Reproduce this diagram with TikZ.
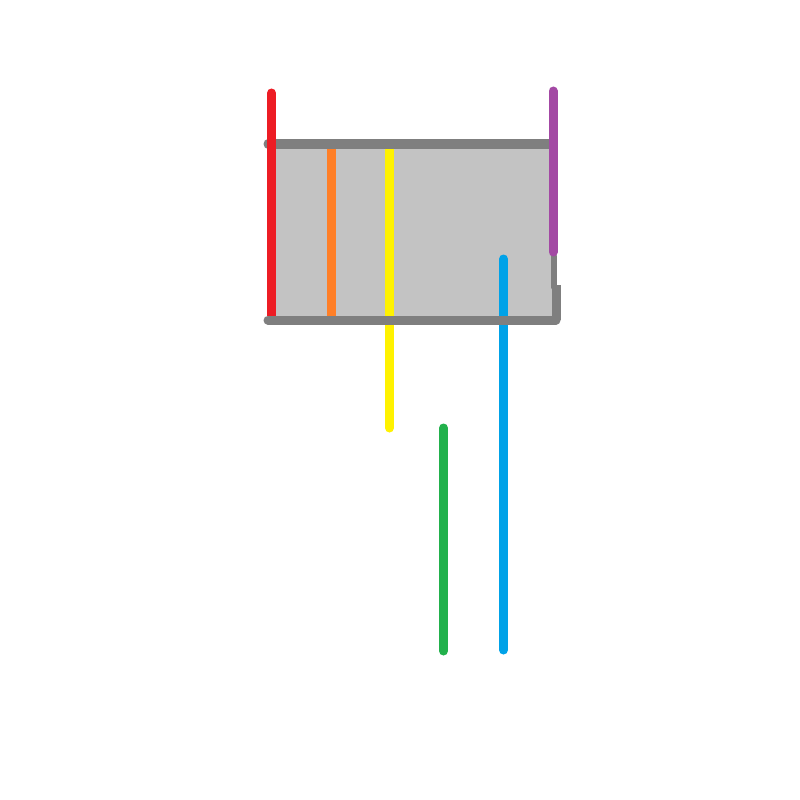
\documentclass[tikz,border=0pt]{standalone}
\usepackage{xcolor}
\definecolor{paintred}{HTML}{ED1C24}
\definecolor{paintorange}{HTML}{FF7F27}
\definecolor{paintyellow}{HTML}{FFF200}
\definecolor{paintgreen}{HTML}{22B14C}
\definecolor{paintblue}{HTML}{00A2E8}
\definecolor{paintpurple}{HTML}{A349A4}
\definecolor{paintgray}{HTML}{7F7F7F}
\definecolor{paintsilver}{HTML}{C3C3C3}
\tikzset{
    stroke/.style={line width=0.09cm, line cap=round},
    frame/.style={stroke, draw=paintgray},
    panel/.style={fill=paintsilver, draw=none}
}

\begin{document}
\begin{tikzpicture}[x=0.01cm, y=-0.01cm]
    \useasboundingbox (0,0) rectangle (800,800);
    % box body
    \fill [panel] (270,144) rectangle (555,320);
    % inner bars
    \draw [stroke, paintorange] (331,149) -- (331,316);
    \draw [stroke, paintyellow] (389.5,149) -- (389.5,428);
    \draw [stroke, paintblue] (503.5,259) -- (503.5,650);
    \draw [stroke, paintgreen] (443.5,428) -- (443.5,651);
    % frame
    \draw [frame] (268,144) -- (552,144);
    \draw [frame, line width=0.06cm] (553.5,256) -- (553.5,287);
    \draw [frame, line cap=butt] (556.5,285) -- (556.5,320);
    \draw [frame] (268,320) -- (556,320);
    % outer bars
    \draw [stroke, paintred, line cap=butt] (271.5,93) -- (271.5,316);
    \draw [stroke, paintred] (271.5,93) -- (271.5,100);
    \draw [stroke, paintpurple] (553,91) -- (553,252);
\end{tikzpicture}
\end{document}
